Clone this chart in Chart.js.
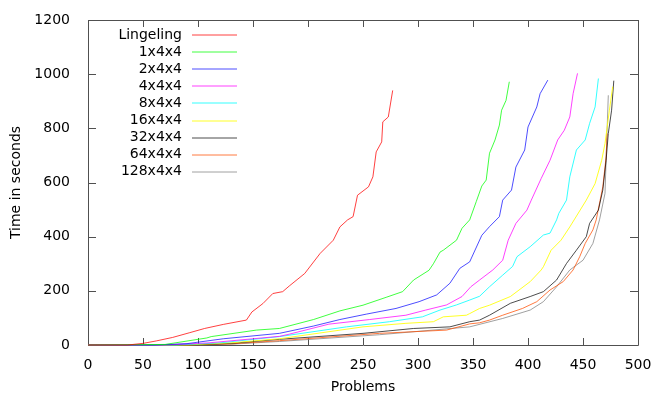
<!DOCTYPE html>
<html>
<head>
<meta charset="utf-8">
<script src="https://cdn.jsdelivr.net/npm/chart.js@4"></script>
<style>
  html, body { margin: 0; padding: 0; background: #fff; }
  canvas { display: block; }
</style>
</head>
<body>
<canvas id="cactusChart" width="664" height="399"></canvas>
<script>
// solved problems (x) vs. time in seconds (y)
const seriesNames = ['Lingeling', '1x4x4', '2x4x4', '4x4x4', '8x4x4', '16x4x4', '32x4x4', '64x4x4', '128x4x4'];
const seriesColors = ['rgba(255,0,0,0.75)', 'rgba(0,255,0,0.75)', 'rgba(0,0,255,0.7)', 'rgba(255,0,255,0.75)', 'rgba(0,255,255,0.8)', 'rgba(255,255,0,0.85)', 'rgba(0,0,0,0.7)', 'rgba(255,77,0,0.75)', 'rgba(128,128,128,0.75)'];

const lingeling = [[0,0],[36,0],[50,6],[62,15],[77,28],[92,45],[106,61],[123,76],[144,92],[149,122],[159,153],[168,190],[177,197],[183,218],[197,264],[211,338],[223,387],[229,436],[236,462],[241,474],[245,553],[255,584],[259,621],[262,713],[267,750],[268,824],[273,842],[277,940]];
const cube1 = [[0,0],[70,2],[108,26],[112,31],[153,55],[174,61],[205,94],[229,126],[250,147],[271,176],[286,197],[296,240],[310,276],[314,300],[320,343],[323,350],[335,387],[340,431],[347,462],[353,530],[358,587],[362,609],[365,708],[370,757],[374,812],[376,867],[380,903],[383,972]];
const cube2 = [[0,0],[60,0],[90,5],[123,23],[174,43],[205,70],[229,94],[253,114],[280,135],[301,160],[317,185],[329,228],[338,283],[347,307],[358,405],[365,437],[374,474],[377,535],[385,572],[389,657],[397,720],[400,805],[408,879],[411,928],[418,978]];
const cube4 = [[0,0],[70,0],[110,8],[174,32],[183,40],[219,77],[256,94],[289,110],[307,129],[326,148],[340,179],[348,215],[356,240],[368,277],[377,313],[382,387],[389,449],[399,498],[403,535],[412,615],[420,682],[427,757],[433,793],[438,842],[441,928],[445,1003]];
const cube8 = [[0,0],[80,0],[120,8],[174,31],[235,67],[274,86],[304,104],[320,129],[335,148],[347,166],[356,180],[365,215],[377,258],[386,290],[390,326],[402,363],[414,406],[420,413],[426,462],[428,486],[435,535],[438,621],[444,720],[452,757],[456,818],[461,879],[464,984]];
const cube16 = [[0,0],[90,0],[130,8],[174,23],[250,67],[289,80],[314,86],[323,104],[344,110],[347,116],[356,135],[365,147],[384,179],[402,234],[412,277],[414,289],[421,350],[430,387],[438,436],[453,535],[461,596],[467,682],[470,744],[474,867],[477,954]];
const cube32 = [[0,0],[90,0],[130,6],[174,21],[250,43],[296,61],[329,67],[347,86],[356,92],[365,110],[384,154],[402,179],[414,197],[426,240],[435,301],[444,350],[453,400],[456,449],[464,498],[468,572],[471,682],[473,781],[476,867],[478,976]];
const cube64 = [[0,0],[90,0],[130,4],[174,16],[265,43],[326,55],[347,78],[356,82],[365,92],[377,110],[395,135],[408,160],[420,203],[432,234],[441,277],[447,326],[452,375],[459,425],[462,462],[468,584],[471,694],[472,781]];
const cube128 = [[0,0],[90,0],[130,3],[174,13],[265,38],[347,67],[377,98],[402,129],[414,160],[426,215],[438,277],[450,313],[459,375],[465,462],[470,560],[471,682],[472,805],[473,922]];

const seriesPoints = [lingeling, cube1, cube2, cube4, cube8, cube16, cube32, cube64, cube128];

const xTicks = [0, 50, 100, 150, 200, 250, 300, 350, 400, 450, 500];
const yTicks = [0, 200, 400, 600, 800, 1000, 1200];

const fontFamily = "'DejaVu Sans', sans-serif";

const datasets = seriesNames.map((name, i) => ({
    label: name,
    data: seriesPoints[i].map(p => ({ x: p[0], y: p[1] })),
    borderColor: seriesColors[i],
    backgroundColor: seriesColors[i],
    borderWidth: 1,
    pointRadius: 0,
    showLine: true,
    tension: 0,
    clip: 4
}));

// gnuplot-like frame with inward, mirrored tick marks
const framePlugin = {
    id: 'frame',
    beforeDatasetsDraw(chart) {
        const { ctx, chartArea: a, scales } = chart;
        ctx.save();
        ctx.strokeStyle = '#505050';
        ctx.lineWidth = 1;
        ctx.beginPath();
        ctx.rect(Math.round(a.left) + 0.5, Math.round(a.top) + 0.5, Math.round(a.right - a.left), Math.round(a.bottom - a.top));
        ctx.stroke();
        ctx.beginPath();
        xTicks.forEach(v => {
            const px = Math.round(scales.x.getPixelForValue(v)) + 0.5;
            ctx.moveTo(px, a.bottom); ctx.lineTo(px, a.bottom - 7);
            ctx.moveTo(px, a.top); ctx.lineTo(px, a.top + 7);
        });
        yTicks.forEach(v => {
            const py = Math.round(scales.y.getPixelForValue(v)) + 0.5;
            ctx.moveTo(a.left, py); ctx.lineTo(a.left + 8, py);
            ctx.moveTo(a.right, py); ctx.lineTo(a.right - 8, py);
        });
        ctx.stroke();
        ctx.restore();
    }
};

// legend: right-aligned labels with line sample after them
const keyPlugin = {
    id: 'key',
    afterDraw(chart) {
        const { ctx, chartArea: a } = chart;
        ctx.save();
        ctx.font = '14px ' + fontFamily;
        ctx.textAlign = 'right';
        ctx.textBaseline = 'middle';
        chart.data.datasets.forEach((ds, i) => {
            const y = a.top + 15 + i * 17.1;
            ctx.fillStyle = '#000';
            ctx.fillText(ds.label, a.left + 94, y);
            ctx.strokeStyle = ds.borderColor;
            ctx.lineWidth = 1;
            ctx.beginPath();
            ctx.moveTo(a.left + 104, Math.round(y));
            ctx.lineTo(a.left + 149, Math.round(y));
            ctx.stroke();
        });
        ctx.restore();
    }
};

new Chart(document.getElementById('cactusChart').getContext('2d'), {
    type: 'scatter',
    data: { datasets },
    options: {
        responsive: false,
        animation: false,
        devicePixelRatio: 1,
        layout: { padding: { left: 0, right: 26, top: 20, bottom: 0 } },
        plugins: {
            legend: { display: false },
            tooltip: { enabled: false }
        },
        scales: {
            x: {
                type: 'linear',
                min: 0, max: 500,
                afterFit: scale => { scale.height = 54; },
                afterBuildTicks: scale => { scale.ticks = xTicks.map(v => ({ value: v })); },
                ticks: { color: '#000', padding: 4, callback: v => String(v), font: { family: fontFamily, size: 14 } },
                grid: { display: false },
                border: { display: false },
                title: { display: true, text: 'Problems', color: '#000', padding: { top: 0, bottom: 3 }, font: { family: fontFamily, size: 14 } }
            },
            y: {
                type: 'linear',
                min: 0, max: 1200,
                afterFit: scale => { scale.width = 88; },
                afterBuildTicks: scale => { scale.ticks = yTicks.map(v => ({ value: v })); },
                ticks: { color: '#000', padding: 10, callback: v => String(v), font: { family: fontFamily, size: 14 } },
                grid: { display: false },
                border: { display: false },
                title: { display: true, text: 'Time in seconds', color: '#000', padding: { top: 8, bottom: 0 }, font: { family: fontFamily, size: 14 } }
            }
        }
    },
    plugins: [framePlugin, keyPlugin]
});
</script>
</body>
</html>
